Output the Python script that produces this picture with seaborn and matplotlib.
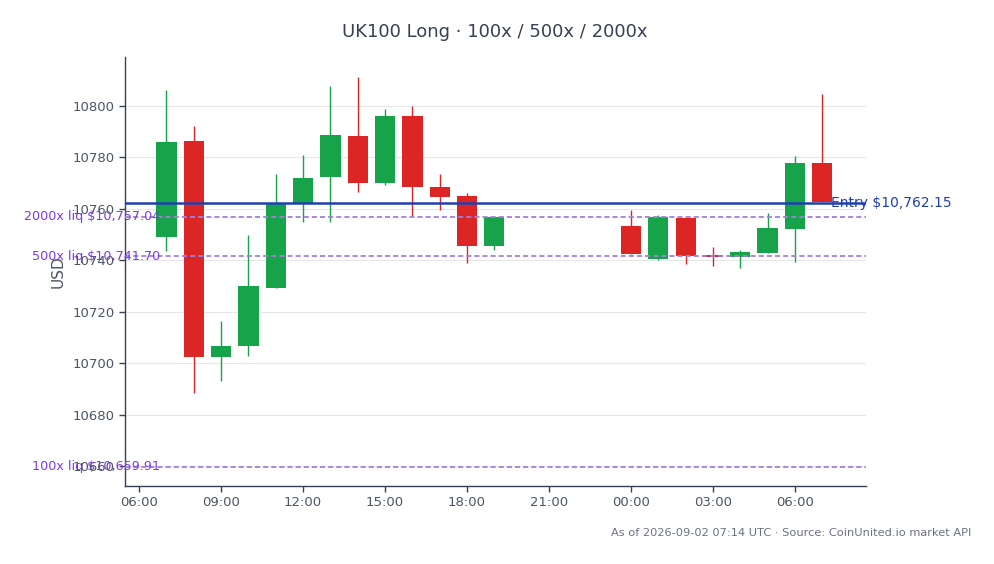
import matplotlib
matplotlib.use("Agg")
import matplotlib.pyplot as plt
import matplotlib.dates as mdates
import matplotlib.transforms as mtransforms
import seaborn as sns
import pandas as pd
import numpy as np

# ---- data ----
times = (list(pd.date_range("2026-09-01 07:00", "2026-09-01 19:00", freq="h"))
         + list(pd.date_range("2026-09-02 00:00", "2026-09-02 07:00", freq="h")))
opens = [10749.2, 10786.4, 10702.6, 10706.9, 10729.4, 10762.3, 10772.3, 10788.3, 10770.2, 10796.1,
         10768.5, 10765.0, 10745.8, 10753.4, 10740.7, 10756.5, 10742.1, 10741.5, 10743.0, 10752.4, 10777.7]
highs = [10806.2, 10792.2, 10716.5, 10749.9, 10773.6, 10781.0, 10807.9, 10811.4, 10798.8, 10800.1,
         10773.6, 10766.3, 10757.2, 10759.6, 10757.7, 10756.8, 10745.4, 10744.1, 10758.6, 10780.6, 10804.7]
lows = [10743.8, 10688.5, 10693.2, 10703.0, 10729.4, 10755.1, 10755.1, 10766.7, 10769.4, 10757.3,
        10759.6, 10738.9, 10744.1, 10742.5, 10740.2, 10738.6, 10737.9, 10736.9, 10743.0, 10739.2, 10762.7]
closes = [10786.0, 10702.4, 10706.8, 10730.1, 10762.3, 10772.0, 10788.7, 10770.0, 10796.1, 10768.7,
          10764.8, 10745.8, 10757.0, 10742.5, 10757.0, 10741.6, 10741.5, 10743.3, 10752.6, 10777.7, 10762.7]

entry_price = 10762.15
liq_labels = ["2000x liq $10,757.04", "500x liq $10,741.70", "100x liq $10,659.91"]
liq_prices = [10757.04, 10741.70, 10659.91]

title = "UK100 Long · 100x / 500x / 2000x"
footer = "As of 2026-09-02 07:14 UTC · Source: CoinUnited.io market API"

df = pd.DataFrame({"time": times, "open": opens, "high": highs, "low": lows, "close": closes})
df["up"] = df["close"] >= df["open"]

# ---- style ----
sns.set_theme(style="white")
plt.rcParams["font.family"] = ["DejaVu Sans"]

GREEN = "#16a34a"
RED = "#dc2626"
AX_COL = "#374151"
TXT_COL = "#4b5563"

fig = plt.figure(figsize=(9.94, 5.64), dpi=100)
ax = fig.add_axes([0.1258, 0.1383, 0.7454, 0.7606])

colors = np.where(df["up"], GREEN, RED)
xnum = mdates.date2num(df["time"])
width = 0.74 / 24.0

# wicks
ax.vlines(xnum, df["low"], df["high"], colors=colors, linewidth=1.0, zorder=2)
# bodies
body_bottom = np.minimum(df["open"], df["close"])
body_height = np.maximum(np.abs(df["close"] - df["open"]), 0.5)
ax.bar(xnum, body_height, bottom=body_bottom, width=width, color=colors, edgecolor=colors,
       linewidth=0, zorder=3)

blend = mtransforms.blended_transform_factory(ax.transAxes, ax.transData)

# entry line
ax.axhline(entry_price, color="#1e40af", linewidth=1.8, zorder=4)
ax.text(0.953, entry_price, f"Entry ${entry_price:,.2f}", transform=blend,
        ha="left", va="center", color="#1e40af", fontsize=10, zorder=5, clip_on=False)

# liquidation lines
for lab, p in zip(liq_labels, liq_prices):
    ax.axhline(p, color="#a37fdc", linewidth=1.3, linestyle=(0, (2.8, 1.7)), zorder=4)
    ax.text(0.047, p, lab, transform=blend, ha="right", va="center", color="#7c3aed",
            fontsize=9.2, zorder=5, clip_on=False)

# axes
ax.set_xlim(mdates.date2num(pd.Timestamp("2026-09-01 05:29")), mdates.date2num(pd.Timestamp("2026-09-02 08:36")))
ax.set_ylim(10652.4, 10819.0)
ax.set_yticks(np.arange(10660, 10801, 20))
ax.xaxis.set_major_locator(mdates.HourLocator(byhour=[0, 3, 6, 9, 12, 15, 18, 21]))
ax.xaxis.set_major_formatter(mdates.DateFormatter("%H:%M"))

ax.grid(axis="y", color="#e5e7eb", linewidth=0.8)
ax.grid(axis="x", visible=False)
ax.set_axisbelow(True)
for s in ["top", "right"]:
    ax.spines[s].set_visible(False)
for s in ["left", "bottom"]:
    ax.spines[s].set_color(AX_COL)
    ax.spines[s].set_linewidth(1.0)
ax.tick_params(axis="both", colors=AX_COL, labelcolor=TXT_COL, labelsize=9.5, length=4, width=1,
               direction="out", bottom=True, left=True)
ax.set_ylabel("USD", color=TXT_COL, fontsize=11, labelpad=5)
ax.set_xlabel("")

fig.text(0.498, 0.944, title, ha="center", va="center", fontsize=13, color=AX_COL)
fig.text(0.977, 0.055, footer, ha="right", va="center", fontsize=8.2, color="#6b7280")

fig.savefig("out.png", dpi=100)
